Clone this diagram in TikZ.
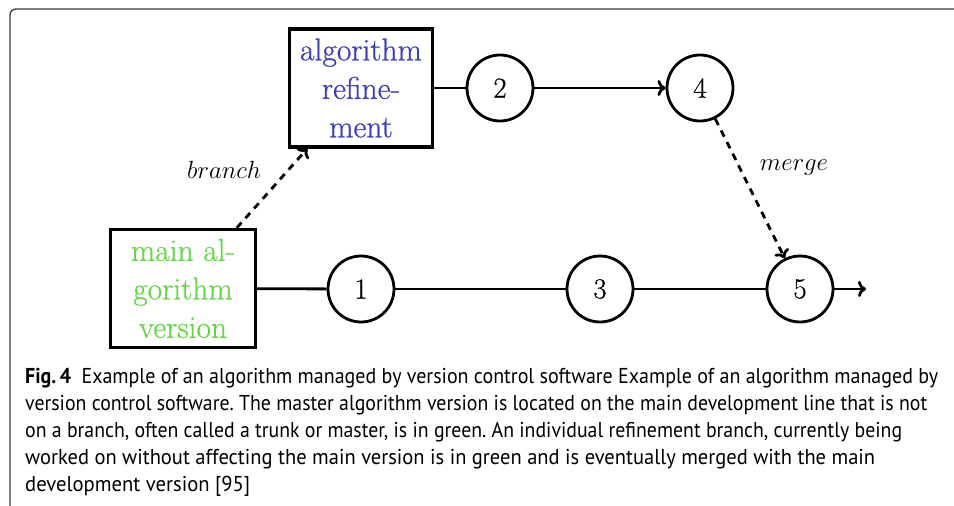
\documentclass[tikz,border=0pt]{standalone}
\usepackage{graphicx}
\usepackage{fontspec}
\newfontfamily\capfont[FakeStretch=0.96]{PT Sans}
\newfontfamily\boxfont[FakeBold=0.6]{Latin Modern Roman}
\usetikzlibrary{arrows.meta}
\definecolor{refblue}{RGB}{60,60,190}
\definecolor{maingreen}{RGB}{100,215,70}
\definecolor{framegray}{RGB}{60,60,60}
\newcommand{\fitline}[2]{\resizebox{#1}{\height}{#2}}
\begin{document}
\begin{tikzpicture}[x=1pt,y=-1pt,
  vbox/.style={draw, line width=3.2pt, minimum width=143pt, minimum height=118pt, inner sep=0pt, align=center, font=\boxfont\fontsize{31.5}{38.5}\selectfont},
  commit/.style={draw, circle, line width=2.8pt, minimum size=66pt, inner sep=0pt, font=\boxfont\fontsize{29}{30}\selectfont},
  conn/.style={line width=2.8pt},
  arrtip/.style={-{To[length=8pt,width=16pt]}},
  dline/.style={line width=2.8pt, dash pattern=on 7pt off 6pt},
  lbl/.style={inner sep=0pt, font=\fontsize{24}{24}\selectfont},
  capline/.style={anchor=base west, inner sep=0pt, font=\capfont\fontsize{21.5}{27}\selectfont\frenchspacing}
]
\useasboundingbox (0,0) rectangle (954,506);
\draw[framegray, line width=1.3pt, rounded corners=6pt] (10,520) -- (10,9) -- (970,9);

\node[vbox, text=refblue] (ref) at (361,88) {algorithm\\refine-\\ment};
\node[vbox, minimum width=145pt, text=maingreen] (main) at (183,288.5) {main al-\\gorithm\\version};
\node[commit] (c1) at (361,289) {1};
\node[commit] (c2) at (500,88) {2};
\node[commit] (c4) at (700,88) {4};
\node[commit] (c3) at (600,289) {3};
\node[commit] (c5) at (800,289) {5};
\coordinate (end) at (866,289);

\draw[conn] (ref) -- (c2);
\draw[conn, arrtip] (c2) -- (c4);
\draw[conn] (main) -- (c1);
\draw[conn] (c1) -- (c3);
\draw[conn] (c3) -- (c5);
\draw[conn, arrtip] (c5) -- (end);
\draw[dline, arrtip] (main) -- (ref);
\draw[dline, arrtip] (c4) -- (c5);

\node[lbl] (lb) at (224,170) {$branch$};
\node[lbl] (lm) at (794,168) {$merge$};

\node[capline] (cap1) at (25,383) {\fitline{913pt}{\textbf{Fig.\,4}\enspace Example of an algorithm managed by version control software Example of an algorithm managed by}};
\node[capline] (cap2) at (25,410) {\fitline{902pt}{version control software. The master algorithm version is located on the main development line that is not}};
\node[capline] (cap3) at (25,437) {\fitline{877pt}{on a branch, often called a trunk or master, is in green. An individual refinement branch, currently being}};
\node[capline] (cap4) at (25,464) {\fitline{850pt}{worked on without affecting the main version is in green and is eventually merged with the main}};
\node[capline] (cap5) at (25,491) {development version [95]};
\end{tikzpicture}
\end{document}
